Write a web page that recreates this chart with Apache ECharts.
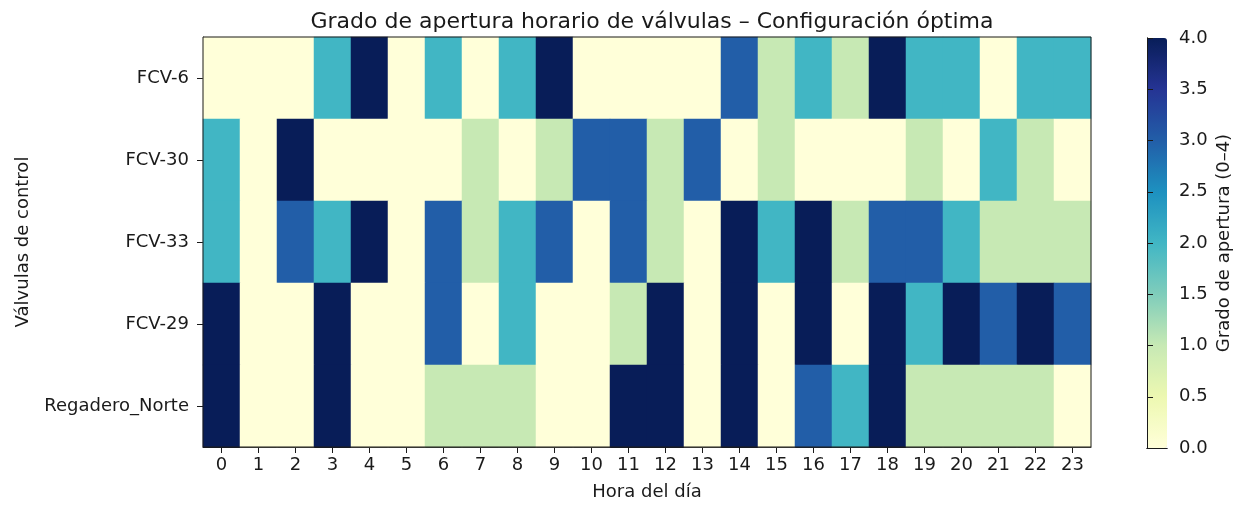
<!DOCTYPE html>
<html>
<head>
<meta charset="utf-8">
<title>Grado de apertura horario de válvulas</title>
<script src="https://cdn.jsdelivr.net/npm/echarts@6/dist/echarts.min.js"></script>
<style>
  html, body { margin: 0; padding: 0; background: #fff; }
  #chart { width: 1246px; height: 506px; }
</style>
</head>
<body>
<div id="chart"></div>
<script>
// hours of the day (x) and control valves (y, top to bottom)
const hours = ['0','1','2','3','4','5','6','7','8','9','10','11','12','13','14','15','16','17','18','19','20','21','22','23'];
const valves = ['FCV-6', 'FCV-30', 'FCV-33', 'FCV-29', 'Regadero_Norte'];

// opening degree per hour, one array per valve
const fcv6          = [0,0,0,2,4,0,2,0,2,4,0,0,0,0,3,1,2,1,4,2,2,0,2,2];
const fcv30         = [2,0,4,0,0,0,0,1,0,1,3,3,1,3,0,1,0,0,0,1,0,2,1,0];
const fcv33         = [2,0,3,2,4,0,3,1,2,3,0,3,1,0,4,2,4,1,3,3,2,1,1,1];
const fcv29         = [4,0,0,4,0,0,3,0,2,0,0,1,4,0,4,0,4,0,4,2,4,3,4,3];
const regaderoNorte = [4,0,0,4,0,0,1,1,1,0,0,4,4,0,4,0,3,2,4,1,1,1,1,0];

const colorbarTicks = [0, 0.5, 1, 1.5, 2, 2.5, 3, 3.5, 4];

// YlGnBu
const ylGnBu = ['#ffffd9','#edf8b1','#c7e9b4','#7fcdbb','#41b6c4','#1d91c0','#225ea8','#253494','#081d58'];

const rows = [fcv6, fcv30, fcv33, fcv29, regaderoNorte];
const cells = [];
rows.forEach((row, y) => {
  row.forEach((v, x) => cells.push([x, y, v]));
});

const font = 'DejaVu Sans, Liberation Sans, sans-serif';
const ink = '#1a1a1a';
const chart = echarts.init(document.getElementById('chart'), null, { renderer: 'canvas' });

// plain line used for the colorbar outline (drawn above the visualMap bar)
const frameAxis = (extra) => Object.assign({
  gridIndex: 1, type: 'value', min: 0, max: 1, z: 10,
  axisLine: { show: true, lineStyle: { color: ink, width: 1 } },
  axisTick: { show: false }, axisLabel: { show: false },
  splitLine: { show: false }
}, extra);

chart.setOption({
  animation: false,
  backgroundColor: '#fff',
  textStyle: { fontFamily: font },
  title: {
    text: 'Grado de apertura horario de válvulas – Configuración óptima',
    left: 647, top: 6, textAlign: 'center',
    textStyle: { fontFamily: font, fontSize: 22, fontWeight: 'normal', color: ink }
  },
  grid: [
    { left: 203, right: 155, top: 37, bottom: 58, show: true, z: 3,
      backgroundColor: 'transparent', borderColor: ink, borderWidth: 1 },
    { left: 1147, width: 20, top: 38, height: 410, show: false }
  ],
  xAxis: [
    {
      type: 'category', data: hours, gridIndex: 0,
      name: 'Hora del día', nameLocation: 'middle', nameGap: 36,
      nameTextStyle: { fontSize: 18, color: ink },
      axisLine: { show: true, lineStyle: { color: ink } },
      axisTick: { show: true, alignWithLabel: true, length: 6, lineStyle: { color: ink } },
      axisLabel: { fontSize: 18, color: ink, margin: 9 },
      splitLine: { show: false }, splitArea: { show: false }
    },
    frameAxis({ position: 'bottom' }),
    frameAxis({ position: 'top' })
  ],
  yAxis: [
    {
      type: 'category', data: valves, inverse: true, gridIndex: 0,
      name: 'Válvulas de control', nameLocation: 'middle', nameGap: 171, nameRotate: 90,
      nameTextStyle: { fontSize: 18, color: ink },
      axisLine: { show: true, lineStyle: { color: ink } },
      axisTick: { show: true, alignWithLabel: true, length: 6, lineStyle: { color: ink } },
      axisLabel: { fontSize: 18, color: ink, margin: 14 },
      splitLine: { show: false }, splitArea: { show: false }
    },
    {
      type: 'value', gridIndex: 1, position: 'right', min: 0, max: 4, interval: 0.5, z: 10,
      name: 'Grado de apertura (0–4)', nameLocation: 'middle', nameGap: 48, nameRotate: 90,
      nameTextStyle: { fontSize: 18, color: ink },
      axisLine: { show: true, lineStyle: { color: ink } },
      axisTick: { show: true, inside: false, length: 6, lineStyle: { color: ink } },
      axisLabel: { fontSize: 18, color: ink, margin: 12,
        formatter: v => colorbarTicks.includes(v) ? v.toFixed(1) : '' },
      splitLine: { show: false }
    },
    frameAxis({ position: 'left' })
  ],
  visualMap: {
    type: 'continuous', min: 0, max: 4, dimension: 2, seriesIndex: 0,
    calculable: false, orient: 'vertical', left: 1147, top: 38, padding: 0, z: 2,
    itemWidth: 20, itemHeight: 410, text: null, showLabel: false,
    inRange: { color: ylGnBu }
  },
  series: [{
    type: 'heatmap', xAxisIndex: 0, yAxisIndex: 0, data: cells,
    itemStyle: { borderWidth: 0 },
    emphasis: { disabled: true }
  }]
});
</script>
</body>
</html>
